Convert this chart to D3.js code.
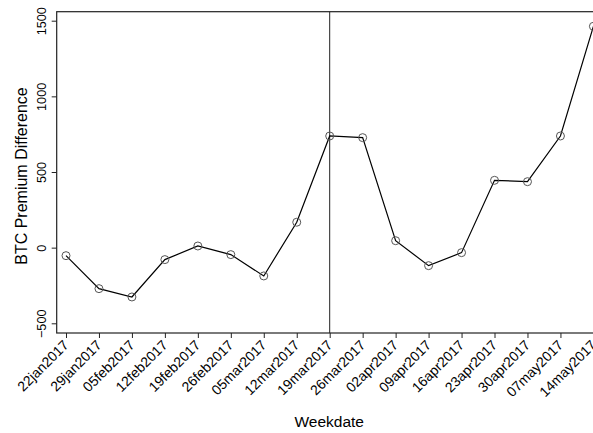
<!DOCTYPE html>
<html>
<head>
<meta charset="utf-8">
<script src="https://cdn.jsdelivr.net/npm/d3@7"></script>
<style>
  html, body { margin: 0; padding: 0; background: #fff; }
  svg { display: block; font-family: "Liberation Sans", Arial, Helvetica, sans-serif; }
</style>
</head>
<body>
<svg id="chart" width="593" height="433"></svg>
<script>
// Weekly BTC premium difference
const weekdates = ["22jan2017","29jan2017","05feb2017","12feb2017","19feb2017","26feb2017",
  "05mar2017","12mar2017","19mar2017","26mar2017","02apr2017","09apr2017","16apr2017",
  "23apr2017","30apr2017","07may2017","14may2017"];
const premiumDiff = [-53, -271, -326, -79, 11, -46, -187, 168, 738, 727, 46, -119, -33,
  445, 436, 738, 1463];
const yTicks = [-500, 0, 500, 1000, 1500];
const markerDate = "19mar2017";

const parse = d3.timeParse("%d%b%Y");
const dates = weekdates.map(parse);
const data = dates.map((d, i) => ({ date: d, label: weekdates[i], value: premiumDiff[i] }));

const svg = d3.select("#chart");
const frame = { left: 56.7, top: 11.7, right: 600, bottom: 333 };

const x = d3.scaleTime()
  .domain([dates[0], dates[dates.length - 1]])
  .range([66, 593.4]);
const y = d3.scaleLinear()
  .domain([-500, 1500])
  .range([323.3, 20.7]);

// plot region frame
svg.append("rect")
  .attr("x", frame.left).attr("y", frame.top)
  .attr("width", frame.right - frame.left).attr("height", frame.bottom - frame.top)
  .attr("fill", "none").attr("stroke", "#222").attr("stroke-width", 1.2);

// vertical reference line
svg.append("line")
  .attr("x1", x(parse(markerDate))).attr("x2", x(parse(markerDate)))
  .attr("y1", frame.top).attr("y2", frame.bottom)
  .attr("stroke", "#222").attr("stroke-width", 1);

// y axis
const yAxis = svg.append("g")
  .attr("transform", `translate(${frame.left},0)`)
  .call(d3.axisLeft(y).tickValues(yTicks).tickSize(5).tickSizeOuter(0)
    .tickPadding(0).tickFormat(d3.format("d")));
yAxis.select(".domain").remove();
yAxis.selectAll(".tick line").attr("stroke", "#222");
yAxis.selectAll(".tick text")
  .attr("transform", "rotate(-90)")
  .attr("text-anchor", "middle")
  .attr("x", 0).attr("y", -11).attr("dy", 0)
  .attr("fill", "#000")
  .style("font-size", "12.7px");

// x axis
const xAxis = svg.append("g")
  .attr("transform", `translate(0,${frame.bottom})`)
  .call(d3.axisBottom(x).tickValues(dates).tickSize(5).tickSizeOuter(0)
    .tickFormat((d, i) => weekdates[i]));
xAxis.select(".domain").remove();
xAxis.selectAll(".tick line").attr("stroke", "#222");
xAxis.selectAll(".tick text")
  .attr("text-anchor", "end")
  .attr("x", 0).attr("y", 0).attr("dy", 0)
  .attr("transform", "translate(3,13) rotate(-45)")
  .attr("fill", "#000")
  .style("font-size", "14px");

// series line
svg.append("path")
  .datum(data)
  .attr("fill", "none")
  .attr("stroke", "#000")
  .attr("stroke-width", 1.2)
  .attr("d", d3.line().x(d => x(d.date)).y(d => y(d.value)));

// hollow markers
svg.append("g").selectAll("circle")
  .data(data)
  .join("circle")
  .attr("cx", d => x(d.date))
  .attr("cy", d => y(d.value))
  .attr("r", 4)
  .attr("fill", "none")
  .attr("stroke", "#555")
  .attr("stroke-width", 1);

// axis titles
svg.append("text")
  .attr("transform", "translate(26.5,176) rotate(-90)")
  .attr("text-anchor", "middle")
  .style("font-size", "16px")
  .text("BTC Premium Difference");
svg.append("text")
  .attr("x", 329.2).attr("y", 426.5)
  .attr("text-anchor", "middle")
  .style("font-size", "15.5px")
  .text("Weekdate");
</script>
</body>
</html>
